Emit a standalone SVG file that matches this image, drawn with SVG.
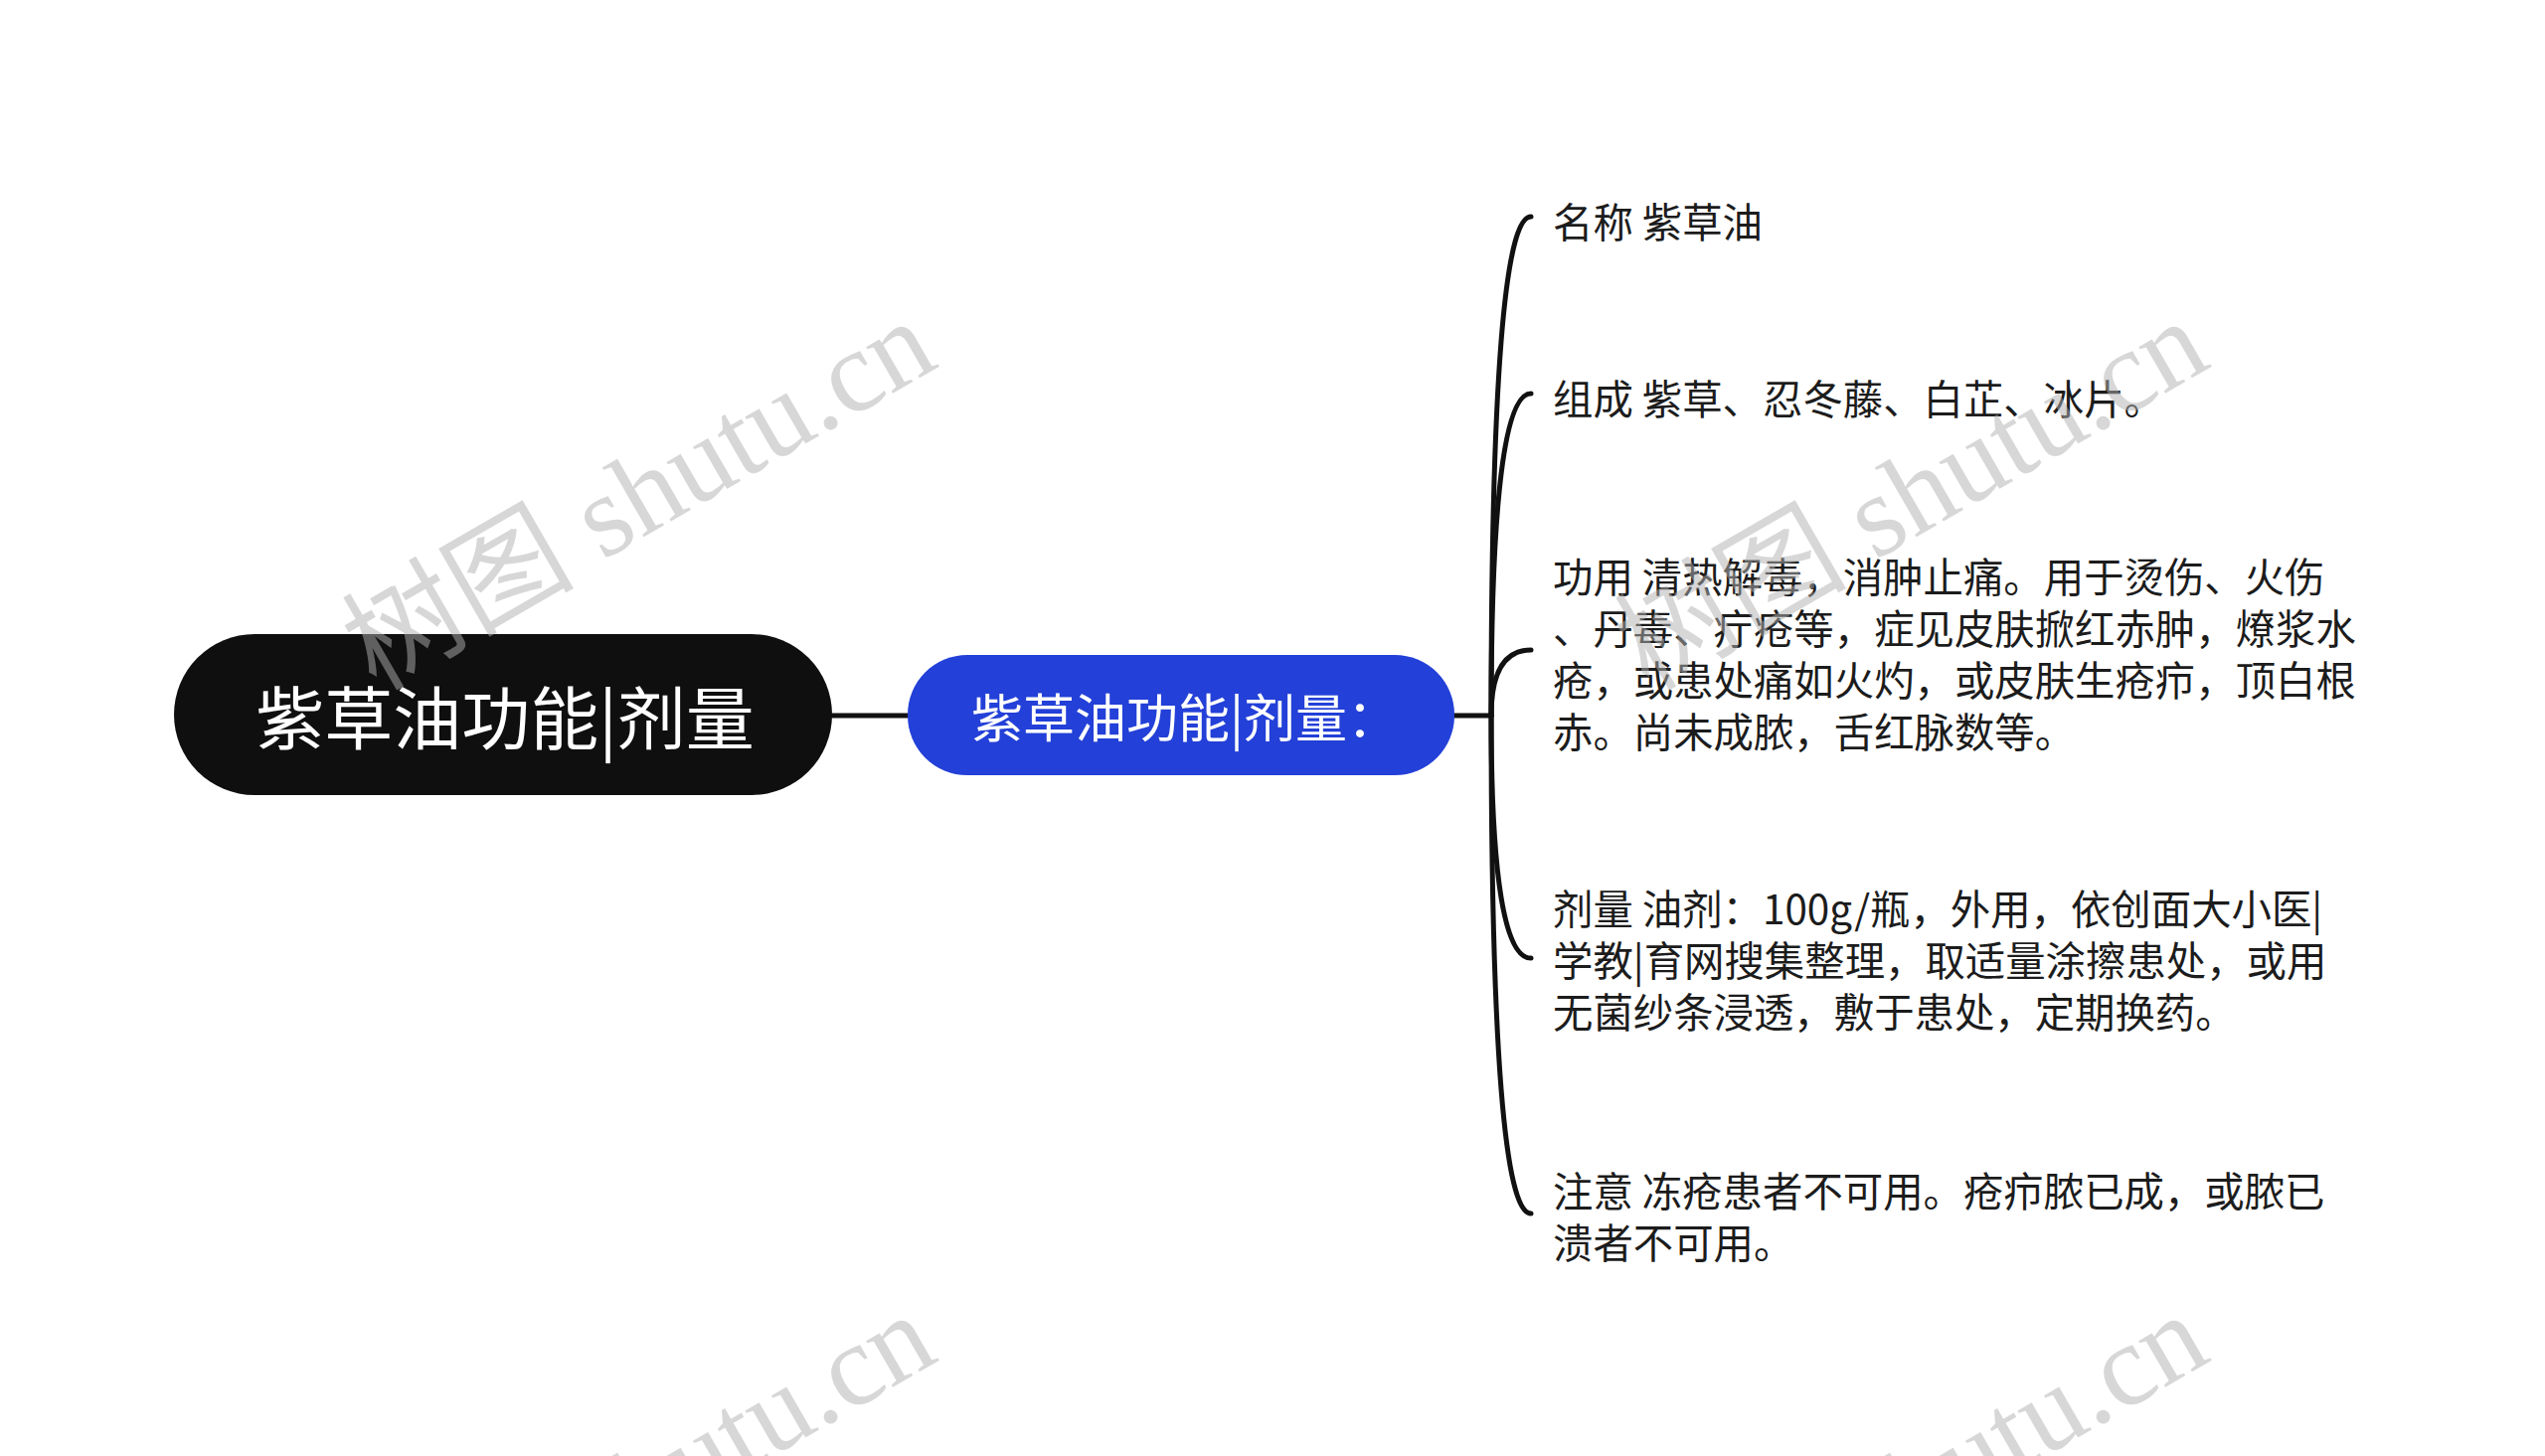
<svg xmlns="http://www.w3.org/2000/svg" width="2560" height="1465" viewBox="0 0 2560 1465">
<style>
.bg{fill:#ffffff}
.conn{fill:none;stroke:#111111;stroke-width:5;stroke-linecap:round}
.t{font-family:"Noto Sans CJK SC","Noto Sans",sans-serif;font-size:40.4px;fill:#1c1c1c;dominant-baseline:central}
.root-t{font-family:"Noto Sans CJK SC","Noto Sans",sans-serif;font-size:69px;fill:#ffffff;text-anchor:middle;dominant-baseline:central}
.sub-t{font-family:"Noto Sans CJK SC","Noto Sans",sans-serif;font-size:52px;fill:#ffffff;text-anchor:middle;dominant-baseline:central}
.wm{font-family:"Liberation Serif","Noto Sans CJK SC",serif;font-size:117px;fill:#b0b0b0;opacity:0.5}
</style>
<rect class="bg" x="0" y="0" width="2560" height="1465"/>
<g id="connectors">
<path class="conn" d="M837 720 H913"/>
<path class="conn" d="M1463 720 H1500"/>
<path class="conn" d="M1500 720 Q1500 218 1540 218"/>
<path class="conn" d="M1500 720 Q1500 396 1540 396"/>
<path class="conn" d="M1500 720 Q1500 654 1540 654"/>
<path class="conn" d="M1500 720 Q1500 964 1540 964"/>
<path class="conn" d="M1500 720 Q1500 1221 1540 1221"/>
</g>
<g id="root">
<rect x="175" y="638" width="662" height="162" rx="81" ry="81" fill="#0f0f0f"/>
<text class="root-t" x="508" y="719">紫草油功能|剂量</text>
</g>
<g id="main">
<rect x="913" y="659" width="550" height="121" rx="60" ry="60" fill="#2340d8"/>
<text class="sub-t" x="1192" y="719">紫草油功能|剂量：</text>
</g>
<g id="n1">
<text class="t" x="1562" y="221">名称 紫草油</text>
</g>
<g id="n2">
<text class="t" x="1562" y="399">组成 紫草、忍冬藤、白芷、冰片。</text>
</g>
<g id="n3">
<text class="t"><tspan x="1562" y="578">功用 清热解毒，消肿止痛。用于烫伤、火伤</tspan><tspan x="1562" y="630">、丹毒、疔疮等，症见皮肤掀红赤肿，燎浆水</tspan><tspan x="1562" y="682">疮，或患处痛如火灼，或皮肤生疮疖，顶白根</tspan><tspan x="1562" y="734">赤。尚未成脓，舌红脉数等。</tspan></text>
</g>
<g id="n4">
<text class="t"><tspan x="1562" y="912">剂量 油剂：100g/瓶，外用，依创面大小医|</tspan><tspan x="1562" y="964">学教|育网搜集整理，取适量涂擦患处，或用</tspan><tspan x="1562" y="1016">无菌纱条浸透，敷于患处，定期换药。</tspan></text>
</g>
<g id="n5">
<text class="t"><tspan x="1562" y="1196">注意 冻疮患者不可用。疮疖脓已成，或脓已</tspan><tspan x="1562" y="1248">溃者不可用。</tspan></text>
</g>
<g id="watermarks">
<text class="wm" transform="translate(378,696) rotate(-30)">树图 shutu.cn</text>
<text class="wm" transform="translate(1658,696) rotate(-30)">树图 shutu.cn</text>
<text class="wm" transform="translate(378,1696) rotate(-30)">树图 shutu.cn</text>
<text class="wm" transform="translate(1658,1696) rotate(-30)">树图 shutu.cn</text>
</g>
</svg>
